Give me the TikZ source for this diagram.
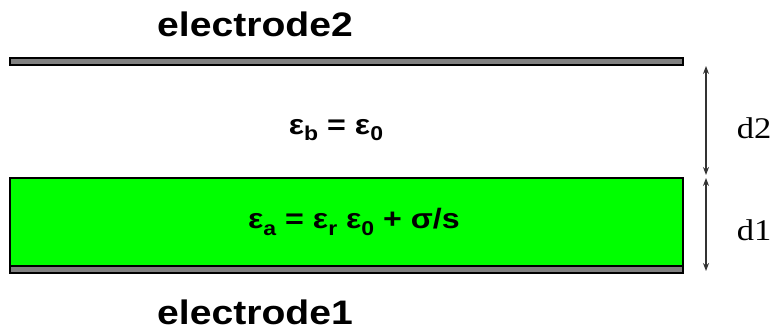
\documentclass[tikz,border=0pt]{standalone}
\usepackage{fontspec}
\setmainfont{Liberation Sans}
\newfontfamily\gapfont{Liberation Serif}
\usetikzlibrary{arrows.meta}
\definecolor{plategray}{RGB}{128,128,128}
\definecolor{layergreen}{RGB}{0,255,0}
\newcommand{\wide}[1]{\scalebox{1.15}[1]{#1}}
\newcommand{\epsub}[1]{\raisebox{-0.45ex}{\fontsize{20}{20}\bfseries\selectfont #1}}
\tikzset{
	plate/.style = {draw = black, fill = plategray, line width = 1.2pt},
	layer/.style = {draw = black, fill = layergreen, line width = 1.2pt},
	platetext/.style = {font = \fontsize{34}{34}\bfseries\selectfont},
	epstext/.style = {font = \fontsize{28}{28}\bfseries\selectfont},
	gaptext/.style = {font = \fontsize{30}{30}\gapfont},
	gap/.style = {draw = black!80, line width = 1.2pt, {Stealth[length=8pt,width=6pt]}-{Stealth[length=8pt,width=6pt]}}
}
\begin{document}
\begin{tikzpicture}[x = 1pt, y = -1pt]
	\useasboundingbox (0,0) rectangle (780,332);
	\draw [plate] (10,58) rectangle (683,65);
	\draw [layer] (10,178) rectangle (683,266);
	\draw [plate] (10,266) rectangle (683,273);
	%\draw [dashed] (10,178) -- (683,178);
	\node [platetext] (el2) at (255,24) {\wide{electrode2}};
	\node [platetext] (el1) at (255,312) {\wide{electrode1}};
	\node [epstext] (epsb) at (336,130) {\wide{ε\epsub{b} = ε\epsub{0}}};
	\node [epstext] (epsa) at (354,222) {\wide{ε\epsub{a} = ε\epsub{r} ε\epsub{0} + σ/s}};
	\coordinate (d2top) at (706,66);
	\coordinate (d2bot) at (706,175);
	\coordinate (d1top) at (706,178);
	\coordinate (d1bot) at (706,271);
	\draw [gap] (d2top) -- (d2bot);
	\draw [gap] (d1top) -- (d1bot);
	\node [gaptext] (dtwo) at (754,128) {\wide{d2}};
	\node [gaptext] (done) at (754,230) {\wide{d1}};
\end{tikzpicture}
\end{document}
